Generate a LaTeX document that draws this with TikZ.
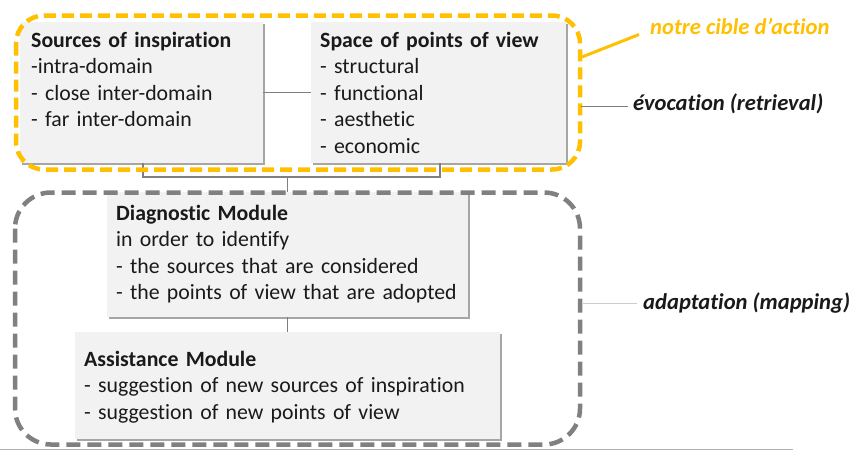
\documentclass[tikz,border=0pt]{standalone}
\usepackage{fontspec}
\setmainfont{Carlito}[Ligatures=NoCommon]
\usetikzlibrary{shadows}
\definecolor{gold}{HTML}{FFC000}
\definecolor{framegray}{HTML}{808080}
\definecolor{conngray}{HTML}{7F7F7F}
\definecolor{boxfill}{HTML}{F2F2F2}
\definecolor{ink}{HTML}{1A1A1A}
\begin{document}
\begin{tikzpicture}[x=1pt,y=-1pt,
  box/.style={draw=none, fill=boxfill, inner sep=0pt,
    drop shadow={shadow xshift=1.5pt, shadow yshift=-1.5pt, opacity=0.35, fill=black}},
  txt/.style={anchor=base west, inner sep=0pt, align=left, text width=#1, text=ink,
    font=\fontsize{21.8}{26.5}\selectfont},
  lbl/.style={anchor=base west, inner sep=0pt, text=ink,
    font=\fontsize{22.6}{26}\selectfont\bfseries\itshape},
  conn/.style={draw=conngray, line width=1.5pt},
  goldframe/.style={draw=gold, line width=4.5pt, rounded corners=28pt, dash pattern=on 12pt off 6pt},
  grayframe/.style={draw=framegray, line width=4.5pt, rounded corners=36pt, dash pattern=on 14pt off 7pt}]
\useasboundingbox (0,0) rectangle (851,451);
\fill[white] (0,0) rectangle (851,451);

% boxes
\node[box, minimum width=243pt, minimum height=141pt] (src) at (141.5,92.5) {};
\node[box, minimum width=255pt, minimum height=141pt] (spc) at (438.5,92.5) {};
\node[box, minimum width=361pt, minimum height=125pt] (diag) at (287.5,254.5) {};
\node[box, minimum width=425pt, minimum height=107pt] (asst) at (287.5,385.5) {};

% box texts
\node[txt=230pt] (srct) at (31,47) {\textbf{Sources of inspiration}\\-intra-domain\\- close inter-domain\\- far inter-domain};
\node[txt=240pt] (spct) at (320,47) {\textbf{Space of points of view}\\- structural\\- functional\\- aesthetic\\- economic};
\node[txt=350pt] (diagt) at (116,220) {\textbf{Diagnostic Module}\\in order to identify\\- the sources that are considered\\- the points of view that are adopted};
\node[txt=414pt] (asstt) at (84,366) {\textbf{Assistance Module}\\- suggestion of new sources of inspiration\\- suggestion of new points of view};

% connectors
\coordinate (j1) at (143,177);
\coordinate (j2) at (440,177);
\coordinate (j3) at (287.5,177);
\draw[conn] (src.east) -- (spc.west);
\draw[conn] (src.south -| j1) -- (j1) -- (j2) -- (spc.south -| j2);
\draw[conn] (j3) -- (diag.north);
\draw[conn] (diag.south) -- (asst.north);

% frames
\draw[goldframe] (16,15.5) rectangle (580,169.5);
\draw[grayframe] (15,192.5) rectangle (580,444.5);

% side labels
\node[lbl, text=gold] (cible) at (650,34.5) {notre cible d’action};
\node[lbl] (evoc) at (633,110) {évocation (retrieval)};
\node[lbl] (adapt) at (643,309) {adaptation (mapping)};
\coordinate (c1) at (582,57);
\draw[gold, line width=3pt] (c1) -- ([xshift=-11pt]cible.base west);
\coordinate (e1) at (581,106);
\draw[conngray, line width=1pt] (e1) -- ([xshift=-5pt]evoc.west |- e1);
\coordinate (a1) at (583,303);
\draw[gray!40, line width=1pt] (a1) -- ([xshift=-6pt]adapt.west |- a1);

% bottom rule
\coordinate (b1) at (0,449.5);
\coordinate (b2) at (793,449.5);
\draw[gray!60, line width=1.5pt] (b1) -- (b2);
\end{tikzpicture}
\end{document}
